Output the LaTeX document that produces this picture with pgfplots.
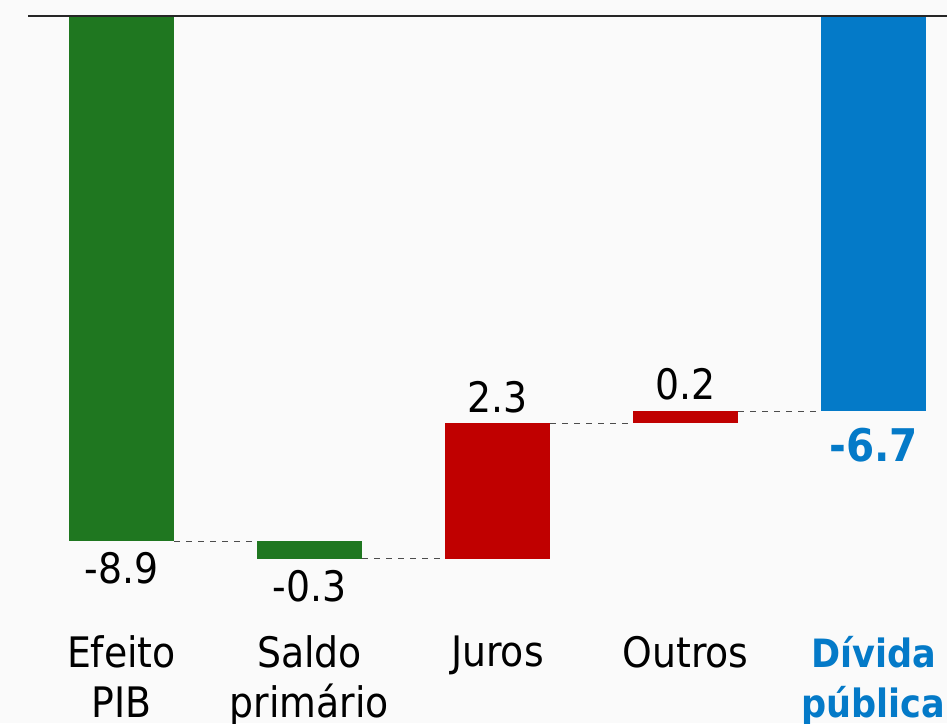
\documentclass[border=0pt]{standalone}
\usepackage{pgfplots}
\pgfplotsset{compat=1.18}
\usepackage{fontspec}
\setmainfont{DejaVu Sans Condensed}
\definecolor{bg}{HTML}{FAFAFA}
\definecolor{pibgreen}{HTML}{1F7720}
\definecolor{jred}{HTML}{C00000}
\definecolor{dblue}{HTML}{047AC8}
\newcommand{\lbl}{\fontsize{21}{25}\selectfont}
\begin{document}
\begin{tikzpicture}
\fill[bg] (0,0) rectangle (473.5pt,361.5pt);
\begin{axis}[
  at={(14pt,43.75pt)}, anchor=south west,
  scale only axis, width=459.5pt, height=309.75pt,
  xmin=-0.4973, xmax=4.391, ymin=-10.5, ymax=0,
  axis y line=none, axis x line*=bottom, x axis line style={draw=none},
  xtick={0,1,2,3,4},
  xticklabels={{Efeito\\PIB},{Saldo\\primário},{Juros},{Outros},{\fontsize{19.5}{25}\selectfont\color{dblue}\bfseries Dívida\\\fontsize{19.5}{25}\selectfont\color{dblue}\bfseries pública}},
  major tick length=0pt,
  xticklabel style={align=center, font=\lbl, inner sep=0pt, anchor=north, yshift=0pt},
  clip=false,
]
% Efeito PIB: 0 -> -8.9
\addplot[draw=none, fill=pibgreen, no marks] coordinates {(-0.2793,0) (0.2793,0) (0.2793,-8.9) (-0.2793,-8.9)} -- cycle;
% Saldo primario: -8.9 -> -9.2
\addplot[draw=none, fill=pibgreen, no marks] coordinates {(0.7207,-8.9) (1.2793,-8.9) (1.2793,-9.2) (0.7207,-9.2)} -- cycle;
% Juros: -9.2 -> -6.9
\addplot[draw=none, fill=jred, no marks] coordinates {(1.7207,-9.2) (2.2793,-9.2) (2.2793,-6.9) (1.7207,-6.9)} -- cycle;
% Outros: -6.9 -> -6.7
\addplot[draw=none, fill=jred, no marks] coordinates {(2.7207,-6.9) (3.2793,-6.9) (3.2793,-6.7) (2.7207,-6.7)} -- cycle;
% Divida publica: 0 -> -6.7
\addplot[draw=none, fill=dblue, no marks] coordinates {(3.7207,0) (4.2793,0) (4.2793,-6.7) (3.7207,-6.7)} -- cycle;
% connectors
\addplot[no marks, dashed, black!70, line width=0.5pt] coordinates {(0.2793,-8.9) (0.7207,-8.9)};
\addplot[no marks, dashed, black!70, line width=0.5pt] coordinates {(1.2793,-9.2) (1.7207,-9.2)};
\addplot[no marks, dashed, black!70, line width=0.5pt] coordinates {(2.2793,-6.9) (2.7207,-6.9)};
\addplot[no marks, dashed, black!70, line width=0.5pt] coordinates {(3.2793,-6.7) (3.7207,-6.7)};
\draw[line width=1pt, black!85] (rel axis cs:0,1) -- (rel axis cs:1,1);
\node[anchor=north, inner sep=0pt, font=\lbl, yshift=-5.5pt] at (axis cs:0,-8.9) {-8.9};
\node[anchor=north, inner sep=0pt, font=\lbl, yshift=-5.5pt] at (axis cs:1,-9.2) {-0.3};
\node[anchor=south, inner sep=0pt, font=\lbl, yshift=5pt] at (axis cs:2,-6.9) {2.3};
\node[anchor=south, inner sep=0pt, font=\lbl, yshift=5.5pt] at (axis cs:3,-6.7) {0.2};
\node[anchor=north, inner sep=0pt, font=\fontsize{22.5}{26}\selectfont\bfseries, text=dblue, yshift=-8pt] at (axis cs:4,-6.7) {-6.7};
\end{axis}
\pgfresetboundingbox
\path (0,0) rectangle (473.5pt,361.5pt);
\end{tikzpicture}
\end{document}
